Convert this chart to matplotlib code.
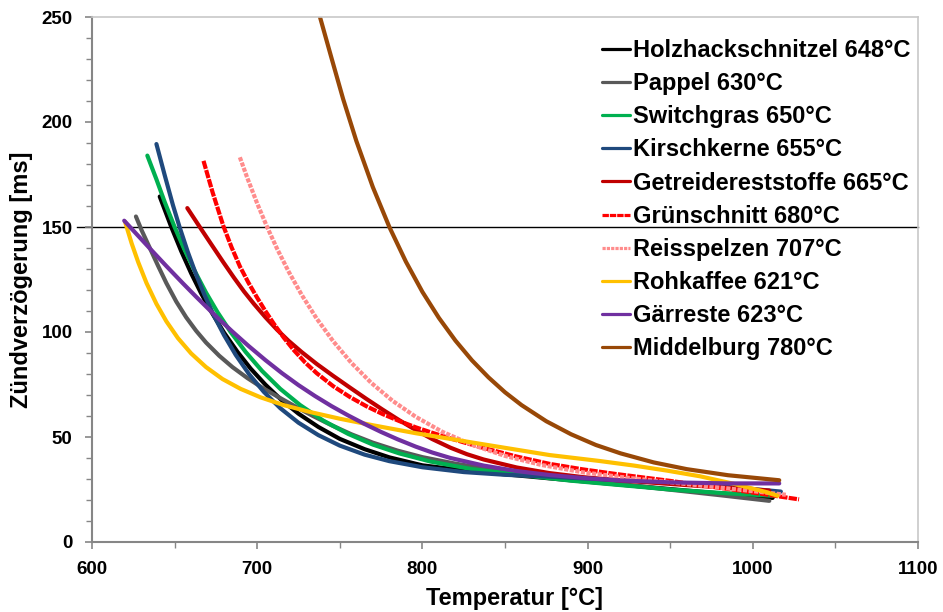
import matplotlib
matplotlib.use("Agg")
import matplotlib.pyplot as plt
from matplotlib.ticker import MultipleLocator

plt.rcParams['font.family'] = ['Liberation Sans', 'DejaVu Sans']
plt.rcParams['font.weight'] = 'bold'

holz_x = [641, 648, 654, 660, 666, 672, 680, 688, 696, 705, 715, 725, 737, 750,
          765, 780, 800, 820, 845, 877, 917, 960, 1012]
holz_y = [164.5, 150, 138.5, 128, 118.5, 109.9, 99.6, 90.6, 82.6, 74.9, 67.4, 61.1,
          54.8, 49.1, 44.2, 40.3, 36.5, 34.6, 32.6, 30.3, 27.5, 24.5, 21]

pappel_x = [626.6, 630, 635, 640, 645, 651, 657, 663, 669, 677, 685, 694, 703, 712,
            722, 733, 745, 757, 770, 785, 800, 820, 840, 860, 880, 917, 950, 980, 1010]
pappel_y = [155, 148.5, 140, 131.5, 123.3, 114.5, 107, 100.6, 95, 88.7, 83.3, 78.1,
            73.5, 69.4, 65, 60.3, 55.6, 51.3, 47.3, 43.5, 40.4, 37.3, 34.8, 32.7,
            30.9, 27.8, 24.9, 22.3, 19.6]

switch_x = [633.5, 639, 644, 650, 656, 662, 669, 676, 684, 693, 703, 714, 726, 740,
            755, 770, 786, 805, 830, 860, 890, 917, 950, 980, 1012]
switch_y = [184, 172.7, 161.9, 150, 139.2, 129.3, 118.8, 109.4, 99.9, 90.5, 81.4,
            72.9, 65.2, 57.8, 51.5, 46.4, 42.2, 38.3, 34.7, 31.9, 29.2, 27.3, 25,
            23.4, 22]

kirsch_x = [639, 644, 649, 653, 658, 663, 668, 674, 680, 687, 695, 704, 714, 725,
            737, 750, 765, 780, 800, 825, 850, 880, 917, 950, 985, 1017]
kirsch_y = [189.5, 174.7, 160.4, 150, 138.1, 127.4, 117.8, 107.5, 98.4, 89.1, 80,
            71.5, 63.7, 56.8, 50.9, 45.9, 41.6, 38.5, 35.6, 33.3, 32, 31, 29.5, 28.2,
            26.3, 24]

getreide_x = [657.7, 665.4, 672, 679.5, 686, 692, 698, 705, 712, 719, 727, 736, 746,
              756, 766, 776, 786, 796, 806, 817, 827, 837, 857, 877, 897, 917, 960,
              1010]
getreide_y = [159, 149.8, 142, 133.2, 125.8, 119.3, 113.4, 107, 101.1, 95.8, 90.4,
              84.8, 79.1, 73.6, 68.2, 63, 58, 53.3, 49, 44.9, 41.8, 39.3, 35.5, 32.8,
              30.9, 29.5, 27.1, 24.5]

gruen_x = [667.5, 673, 679.5, 684.5, 689.6, 694.7, 699.7, 704.7, 710, 716, 722, 729,
           736, 746, 756, 766, 776, 786, 796, 806, 817, 827, 837, 857, 877, 897, 917,
           950, 990, 1028]
gruen_y = [181.5, 166.5, 150.5, 140.3, 131.1, 123.5, 116.7, 110.3, 104, 97.4, 91.5,
           85.5, 80.4, 74.2, 69.1, 64.7, 60.9, 57.6, 54.6, 52, 49.3, 47, 44.8, 40.7,
           37.2, 34.6, 32.4, 29.1, 24.7, 20.3]

reis_x = [689.5, 694, 700, 706, 712, 719, 727, 736, 746, 757, 769, 782, 796, 812,
          830, 850, 872, 897, 925, 955, 985, 1020]
reis_y = [183.2, 173.4, 161.2, 150, 139.7, 128.8, 117.6, 106.4, 95.6, 85.3, 75.8,
          67.2, 59.6, 52.5, 46.3, 41, 36.7, 33.2, 30.5, 28, 25.5, 22.5]

kaffee_x = [620, 624, 628, 633, 639, 645, 652, 660, 669, 679, 690, 702, 716, 732,
            750, 770, 796, 837, 877, 907, 928, 948, 968, 988, 1008, 1015]
kaffee_y = [152.5, 142.2, 133.2, 123.3, 113.4, 105.1, 97.1, 89.8, 83.3, 77.6, 72.9,
            68.9, 65.2, 61.9, 58.7, 55.6, 51.8, 46.5, 41.4, 38.6, 36.4, 34, 31.3,
            27.8, 23.8, 22]

gaer_x = [619.5, 627, 635, 645, 655, 663, 671, 678, 685, 695, 705, 715, 725, 735,
          745, 755, 765, 775, 785, 796, 806, 817, 837, 857, 877, 897, 920, 950, 985,
          1016]
gaer_y = [153, 146.6, 139.8, 131.4, 123.2, 116.8, 110.6, 105.3, 100.2, 93.2, 86.6,
          80.4, 74.7, 69.5, 64.7, 60.3, 56.2, 52.4, 48.9, 45.4, 42.6, 40, 36.4, 33.8,
          31.9, 30.5, 29.3, 28.4, 27.9, 27.9]

middel_x = [738, 745, 752, 760, 770, 780, 790, 800, 810, 820, 830, 840, 850, 860,
            875, 890, 905, 920, 940, 960, 985, 1016]
middel_y = [250, 230.4, 211, 191, 169, 150, 133.5, 119.1, 106.7, 95.9, 86.5, 78.4,
            71.3, 65.2, 57.5, 51.3, 46.2, 42.2, 37.9, 34.7, 31.8, 29.4]

labels = ["Holzhackschnitzel 648°C", "Pappel 630°C", "Switchgras 650°C",
          "Kirschkerne 655°C", "Getreidereststoffe 665°C", "Grünschnitt 680°C",
          "Reisspelzen 707°C", "Rohkaffee 621°C", "Gärreste 623°C",
          "Middelburg 780°C"]

series = [
    (holz_x, holz_y, "#000000", "-"),
    (pappel_x, pappel_y, "#595959", "-"),
    (switch_x, switch_y, "#00B050", "-"),
    (kirsch_x, kirsch_y, "#1F497D", "-"),
    (getreide_x, getreide_y, "#C00000", "-"),
    (gruen_x, gruen_y, "#FF0000", (0, (2.0, 0.3))),
    (reis_x, reis_y, "#FF8C8C", (0, (1.0, 0.35))),
    (kaffee_x, kaffee_y, "#FFC000", "-"),
    (gaer_x, gaer_y, "#7030A0", "-"),
    (middel_x, middel_y, "#984807", "-"),
]

fig = plt.figure(figsize=(9.43, 6.12), dpi=100)
ax = fig.add_axes([92 / 943, 1 - 542 / 612, 826 / 943, 525 / 612])

# Grenzlinie 150 ms
ax.plot([591, 1100], [150, 150], color="black", lw=1.0, clip_on=False, zorder=1)

for (x, y, c, ls), lab in zip(series, labels):
    ax.plot(x, y, color=c, lw=3.0, ls=ls, label=lab, solid_capstyle="round",
            solid_joinstyle="round", zorder=2)

ax.set_xlim(600, 1100)
ax.set_ylim(0, 250)
ax.xaxis.set_major_locator(MultipleLocator(100))
ax.xaxis.set_minor_locator(MultipleLocator(50))
ax.yaxis.set_major_locator(MultipleLocator(50))
ax.yaxis.set_minor_locator(MultipleLocator(10))
ax.tick_params(which="both", direction="out", color="#868686", labelsize=13.5,
               pad=9)
ax.tick_params(which="major", length=5, width=1.2)
ax.tick_params(which="minor", length=4, width=1.0)

for s in ["left", "bottom"]:
    ax.spines[s].set_color("#868686")
    ax.spines[s].set_linewidth(1.5)
for s in ["top", "right"]:
    ax.spines[s].set_color("#C8C8C8")
    ax.spines[s].set_linewidth(1.2)

ax.set_xlabel("Temperatur [°C]", fontsize=17, fontweight="bold")
ax.set_ylabel("Zündverzögerung [ms]", fontsize=17, fontweight="bold")
ax.xaxis.set_label_coords(0.512, -0.085)
ax.yaxis.set_label_coords(-0.072, 0.5)

leg = ax.legend(loc="upper left", bbox_to_anchor=(602 / 943, 1 - 39 / 612),
                bbox_transform=fig.transFigure, frameon=False, fontsize=17,
                handlelength=1.2, handletextpad=0.1, labelspacing=0.43,
                borderpad=0, borderaxespad=0)
for line in leg.get_lines():
    line.set_linewidth(2.3)

fig.savefig("out.png", dpi=100)
